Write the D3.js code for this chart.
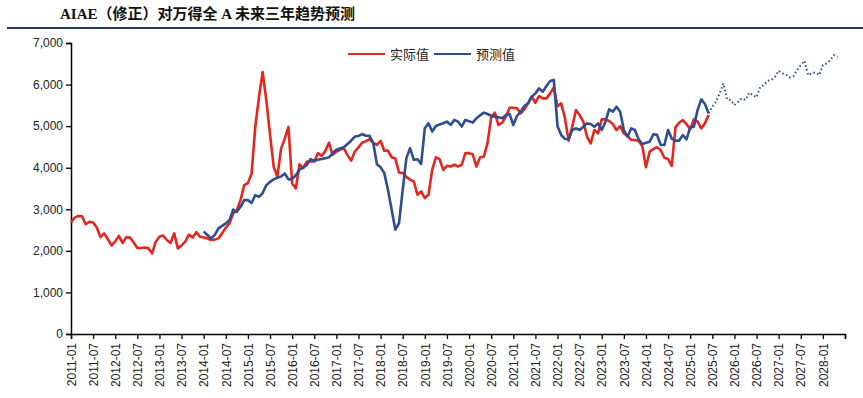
<!DOCTYPE html>
<html>
<head>
<meta charset="utf-8">
<script src="https://cdn.jsdelivr.net/npm/d3@7"></script>
<style>
  body { margin: 0; background: #fff; }
  svg { display: block; }
</style>
</head>
<body>
<div id="chart"></div>
<script>
// monthly values, index 0 = 2011-01
var actual = [
  2680, 2800, 2840, 2830, 2640, 2700, 2680, 2560, 2330, 2420, 2280, 2130,
  2230, 2360, 2190, 2330, 2320, 2200, 2070, 2070, 2080, 2060, 1940, 2220,
  2340, 2370, 2260, 2190, 2420, 2060, 2130, 2220, 2390, 2320, 2450, 2340,
  2320, 2300, 2260, 2270, 2300, 2420, 2560, 2660, 2900, 2980, 3220, 3580,
  3630, 3860, 4980, 5700, 6300, 5620, 4800, 4020, 3790, 4460, 4700, 4980,
  3620, 3500, 4080, 3990, 4150, 4150, 4150, 4350, 4285, 4400, 4600, 4310,
  4390, 4430, 4470, 4310, 4170, 4390, 4490, 4600, 4640, 4685, 4600, 4550,
  4645, 4410, 4410, 4250, 4220, 3885, 3870, 3780, 3710, 3670, 3350, 3430,
  3270, 3350, 3950, 4250, 4205, 3950, 4045, 4030, 4070, 4030, 4070, 4350,
  4350, 4323, 4027, 4251, 4267, 4587, 5212, 5324, 5027, 5084, 5228, 5444,
  5444, 5428, 5308, 5404, 5548, 5708, 5564, 5724, 5668, 5668, 5788, 5932,
  5480, 5548, 5200, 4651, 4987, 5388, 5268, 5108, 4750, 4587, 4907, 4827,
  5164, 5164, 5124, 5050, 4907, 5000, 4827, 4763, 4667, 4667, 4643, 4523,
  4011, 4387, 4451, 4491, 4420, 4240, 4210, 4043, 4971, 5083, 5147, 5051,
  4923, 5163, 5107, 4947, 5067, 5267
];

// predicted, starts 2014-01 (index 36)
var predStart = 36;
var predicted = [
  2470, 2380, 2300, 2380, 2540, 2600, 2660, 2740, 2990, 2940, 3060, 3220,
  3220, 3150, 3340, 3300, 3390, 3580, 3660, 3720, 3760, 3790, 3860, 3720,
  3725, 3820, 3950, 4010, 4070, 4205, 4170, 4190, 4210, 4230, 4250, 4350,
  4430, 4460, 4490, 4570, 4650, 4750, 4765, 4810, 4770, 4765, 4600, 4085,
  4010, 3870, 3470, 2990, 2510, 2670, 3470, 4230, 4470, 4190, 4205, 4090,
  4950, 5070, 4870, 5005, 5040, 5070, 5110, 5030, 5150, 5110, 4990, 5150,
  5120, 5085, 5190, 5260, 5325, 5292, 5250, 5228, 5212, 5188, 5268, 5292,
  5027, 5244, 5348, 5484, 5548, 5708, 5788, 5908, 5828, 5964, 6084, 6108,
  5000, 4787, 4691, 4683, 4907, 4947, 4907, 4987, 5067, 5051, 4987, 5067,
  4907, 5100, 5404, 5348, 5468, 5348, 4907, 4747, 4947, 4907, 4683, 4571,
  4600, 4627, 4803, 4790, 4547, 4547, 4907, 4700, 4651, 4651, 4787, 4683,
  4971, 4987, 5387, 5643, 5531, 5307
];

// forecast (dotted), starts 2025-06 (index 173)
var foreStart = 173;
var forecast = [
  5307, 5467, 5587, 5788, 6028, 5644, 5628, 5508, 5588, 5668, 5628, 5804,
  5748, 5692, 5948, 5988, 6092, 6108, 6188, 6332, 6268, 6244, 6172, 6204,
  6348, 6468, 6572, 6228, 6268, 6292, 6228, 6468, 6508, 6588, 6708, 6668
];

var yTicks = [0, 1000, 2000, 3000, 4000, 5000, 6000, 7000];
var seriesNames = ["实际值", "预测值"];
var seriesColors = ["#E3261E", "#2E4E8F"];

var width = 863, height = 398;
var margin = { top: 43, right: 18, bottom: 64, left: 71 };
var lastMonth = 210;

var svg = d3.select("#chart").append("svg")
    .attr("width", width)
    .attr("height", height);

// title + rule
svg.append("text")
    .attr("x", 60)
    .attr("y", 19)
    .style("font-family", "'Liberation Serif', 'Noto Sans CJK SC', serif")
    .style("font-weight", "bold")
    .style("font-size", "15px")
    .style("fill", "#111")
    .text("AIAE（修正）对万得全 A 未来三年趋势预测");

svg.append("line")
    .attr("x1", 7).attr("x2", width)
    .attr("y1", 28).attr("y2", 28)
    .style("stroke", "#1F3864")
    .style("stroke-width", 2.2);

var x = d3.scaleLinear()
    .domain([0, lastMonth])
    .range([margin.left, width - margin.right]);

var y = d3.scaleLinear()
    .domain([0, 7000])
    .range([height - margin.bottom, margin.top]);

function monthLabel(m) {
  var yr = 2011 + Math.floor(m / 12), mo = m % 12 + 1;
  return yr + "-" + (mo < 10 ? "0" + mo : mo);
}

// axes
var yAxis = svg.append("g")
    .attr("transform", "translate(" + margin.left + ",0)")
    .call(d3.axisLeft(y).tickValues(yTicks).tickSize(5).tickPadding(3).tickFormat(d3.format(",")));

var xAxis = svg.append("g")
    .attr("transform", "translate(0," + (height - margin.bottom) + ")")
    .call(d3.axisBottom(x)
      .tickValues(d3.range(0, lastMonth + 1, 6))
      .tickSize(5)
      .tickFormat(function(d) { return d <= 204 ? monthLabel(d) : ""; }));

[yAxis, xAxis].forEach(function(a) {
  a.select(".domain").style("stroke", "#000").style("stroke-width", 1.5);
  a.selectAll(".tick line").style("stroke", "#000").style("stroke-width", 1.3);
  a.selectAll("text")
    .style("font-family", "'Liberation Sans', sans-serif")
    .style("font-size", "12px")
    .style("fill", "#222");
});

xAxis.selectAll(".tick text")
    .attr("transform", "rotate(-90)")
    .attr("text-anchor", "end")
    .attr("x", -9)
    .attr("y", 0)
    .attr("dy", "0.35em");

// lines
var line = d3.line()
    .x(function(d) { return x(d[0]); })
    .y(function(d) { return y(d[1]); });

function pairs(arr, start) {
  return arr.map(function(v, i) { return [start + i, v]; });
}

svg.append("path")
    .datum(pairs(actual, 0))
    .attr("d", line)
    .style("fill", "none")
    .style("stroke", seriesColors[0])
    .style("stroke-width", 2.6)
    .style("stroke-linejoin", "round");

svg.append("path")
    .datum(pairs(predicted, predStart))
    .attr("d", line)
    .style("fill", "none")
    .style("stroke", seriesColors[1])
    .style("stroke-width", 2.6)
    .style("stroke-linejoin", "round");

svg.append("path")
    .datum(pairs(forecast, foreStart))
    .attr("d", line)
    .style("fill", "none")
    .style("stroke", seriesColors[1])
    .style("stroke-width", 2)
    .style("stroke-dasharray", "1.5,2.5");

// legend
var legend = svg.append("g").attr("transform", "translate(348,54)");
seriesNames.forEach(function(name, i) {
  var g = legend.append("g").attr("transform", "translate(" + (i * 86) + ",0)");
  g.append("line")
    .attr("x1", 0).attr("x2", 37)
    .attr("y1", 0).attr("y2", 0)
    .style("stroke", seriesColors[i])
    .style("stroke-width", 2.2);
  g.append("text")
    .attr("x", 42)
    .attr("y", 0)
    .attr("dy", "0.35em")
    .style("font-family", "'Noto Sans CJK SC', sans-serif")
    .style("font-size", "13px")
    .style("fill", "#222")
    .text(name);
});
</script>
</body>
</html>
